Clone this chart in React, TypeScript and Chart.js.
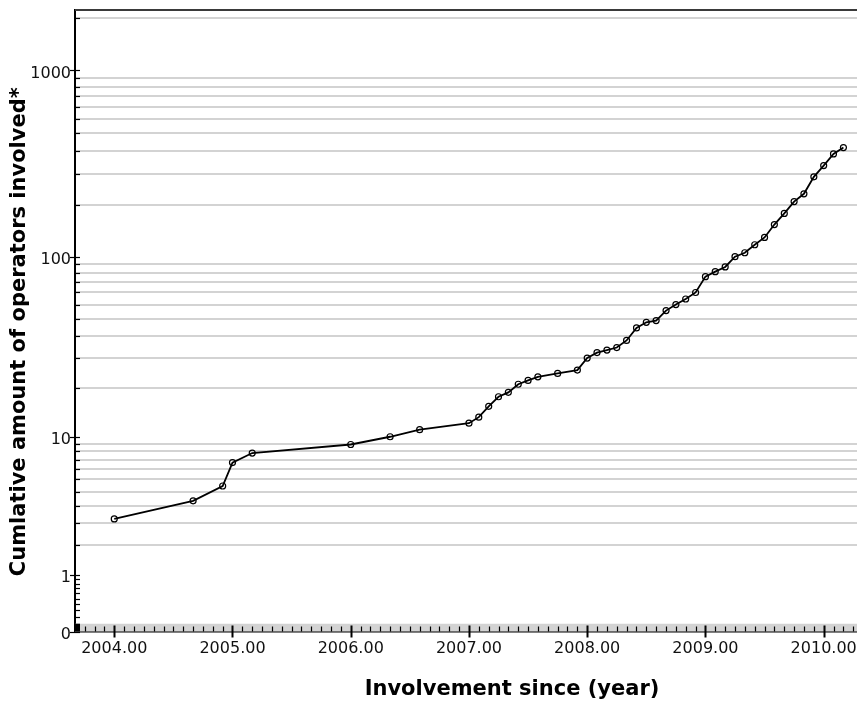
import React, { useEffect, useRef } from "react";
import { Chart, registerables } from "chart.js";

Chart.register(...registerables);

// ---- data ----
const years = [
  2004.0, 2004.667, 2004.917, 2005.0, 2005.167, 2006.0, 2006.333, 2006.583,
  2007.0, 2007.083, 2007.167, 2007.25, 2007.333, 2007.417, 2007.5, 2007.583, 2007.75, 2007.917,
  2008.0, 2008.083, 2008.167, 2008.25, 2008.333, 2008.417, 2008.5, 2008.583, 2008.667, 2008.75, 2008.833, 2008.917,
  2009.0, 2009.083, 2009.167, 2009.25, 2009.333, 2009.417, 2009.5, 2009.583, 2009.667, 2009.75, 2009.833, 2009.917,
  2010.0, 2010.083, 2010.167,
];
const operators = [
  3, 4, 5, 7, 8, 9, 10, 11,
  12, 13, 15, 17, 18, 20, 21, 22, 23, 24,
  28, 30, 31, 32, 35, 41, 44, 45, 51, 55, 59, 64,
  78, 83, 88, 100, 105, 116, 127, 149, 171, 198, 218, 269,
  309, 357, 386,
];
const xTickYears = [2004, 2005, 2006, 2007, 2008, 2009, 2010, 2011];
const yMajorTicks = [0, 1, 10, 100, 1000, 10000];
const xMin = 2003.668;
const xMax = 2011.06;
const yMaxRaw = 2105;
const bandTopRaw = 0.1;

const xTitle = "Involvement since (year)";
const yTitle = "Cumlative amount of operators involved*";

// log10(1 + v) transform used by the vertical axis
const tr = (v: number) => Math.log10(1 + v);

type YTick = { raw: number; t: number; kind: "major" | "minor" | "grid" };
function buildYTicks(): YTick[] {
  const out: YTick[] = [];
  const tMax = tr(yMaxRaw);
  for (let i = 0; i < yMajorTicks.length; i++) {
    const a = yMajorTicks[i];
    if (tr(a) <= tMax) out.push({ raw: a, t: tr(a), kind: "major" });
    const b = yMajorTicks[i + 1];
    if (b === undefined) break;
    const step = (b - a) / 10;
    for (let k = 1; k <= 9; k++) {
      const v = a + k * step;
      if (tr(v) > tMax) continue;
      out.push({ raw: v, t: tr(v), kind: v >= 1 ? "grid" : "minor" });
    }
  }
  return out;
}
const yTicks = buildYTicks();

const decor = {
  id: "decor",
  beforeDatasetsDraw(chart: any) {
    const { ctx, chartArea: a, scales } = chart;
    const y = scales.y;
    const yb = y.getPixelForValue(tr(bandTopRaw));
    ctx.save();
    ctx.fillStyle = "#d3d3d3";
    ctx.fillRect(a.left, yb, a.right - a.left, a.bottom - yb);
    ctx.restore();
  },
  afterDatasetsDraw(chart: any) {
    const { ctx, chartArea: a, scales } = chart;
    const x = scales.x;
    const y = scales.y;
    ctx.save();
    // top frame line
    ctx.strokeStyle = "#3a3a3a";
    ctx.lineWidth = 2;
    ctx.beginPath();
    ctx.moveTo(a.left, a.top);
    ctx.lineTo(a.right, a.top);
    ctx.stroke();

    ctx.strokeStyle = "#000";
    ctx.lineWidth = 1.2;
    // y ticks
    for (const tk of yTicks) {
      const py = Math.round(y.getPixelForValue(tk.t)) + 0.5;
      ctx.beginPath();
      if (tk.kind === "major") {
        ctx.moveTo(a.left - 5, py);
        ctx.lineTo(a.left + 5, py);
      } else {
        ctx.moveTo(a.left, py);
        ctx.lineTo(a.left + 5, py);
      }
      ctx.stroke();
    }
    // dense block near zero
    const yb = y.getPixelForValue(tr(bandTopRaw));
    ctx.fillStyle = "#000";
    ctx.fillRect(a.left - 1, yb, 6, a.bottom - yb);

    // x ticks: monthly minor, yearly major
    for (let yr = Math.floor(xMin); yr <= Math.ceil(xMax); yr++) {
      for (let m = 0; m < 12; m++) {
        const v = yr + m / 12;
        if (v < xMin || v > xMax) continue;
        const px = Math.round(x.getPixelForValue(v)) + 0.5;
        ctx.beginPath();
        if (m === 0) {
          ctx.lineWidth = 2;
          ctx.moveTo(px, a.bottom - 6);
          ctx.lineTo(px, a.bottom + 6);
        } else {
          ctx.lineWidth = 1.2;
          ctx.moveTo(px, a.bottom - 5);
          ctx.lineTo(px, a.bottom);
        }
        ctx.stroke();
      }
    }
    ctx.restore();
  },
};

export default function App() {
  const ref = useRef<HTMLCanvasElement | null>(null);

  useEffect(() => {
    if (!ref.current) return;
    Chart.defaults.font.family = "'DejaVu Sans', sans-serif";
    const chart = new Chart(ref.current, {
      type: "line",
      data: {
        datasets: [
          {
            data: years.map((yr, i) => ({ x: yr, y: tr(operators[i]) })),
            borderColor: "#000",
            borderWidth: 1.8,
            pointRadius: 3,
            pointBorderWidth: 1.2,
            pointBorderColor: "#000",
            pointBackgroundColor: "rgba(0,0,0,0)",
            fill: false,
            tension: 0,
          },
        ],
      },
      options: {
        animation: false,
        responsive: false,
        devicePixelRatio: 1,
        layout: { padding: { top: 10, right: 41, left: 0, bottom: 0 } },
        plugins: { legend: { display: false }, tooltip: { enabled: false } },
        scales: {
          x: {
            type: "linear",
            min: xMin,
            max: xMax,
            afterBuildTicks: (s: any) => {
              s.ticks = xTickYears.map((v) => ({ value: v }));
            },
            afterFit: (s: any) => {
              s.height = 70.5;
              s.paddingLeft = 0;
              s.paddingRight = 0;
            },
            grid: { display: false, drawTicks: false },
            border: { display: true, color: "#000", width: 1.5 },
            ticks: {
              autoSkip: false,
              maxRotation: 0,
              padding: 8,
              color: "#111",
              font: { size: 16 },
              callback: (v: any) => Number(v).toFixed(2),
            },
            title: {
              display: true,
              text: xTitle,
              color: "#000",
              font: { size: 21, weight: "bold" },
              padding: { top: 0, bottom: 0 },
            },
          },
          y: {
            type: "linear",
            min: 0,
            max: tr(yMaxRaw),
            afterBuildTicks: (s: any) => {
              s.ticks = yTicks.map((t) => ({ value: t.t }));
            },
            afterFit: (s: any) => {
              s.width = 75;
              s.paddingTop = 0;
              s.paddingBottom = 0;
            },
            grid: {
              drawTicks: false,
              lineWidth: 2,
              color: (c: any) =>
                yTicks[c.index] && yTicks[c.index].kind === "grid" ? "#d3d3d3" : "rgba(0,0,0,0)",
            },
            border: { display: true, color: "#000", width: 2 },
            ticks: {
              autoSkip: false,
              padding: 4,
              labelOffset: 3,
              color: "#111",
              font: { size: 16 },
              callback: (_v: any, i: number) =>
                yTicks[i] && yTicks[i].kind === "major" ? String(yTicks[i].raw) : "",
            },
            title: {
              display: true,
              text: yTitle + "   ",
              color: "#000",
              font: { size: 21, weight: "bold" },
              padding: { top: 7, bottom: 0 },
            },
          },
        },
      },
      plugins: [decor],
    });
    return () => chart.destroy();
  }, []);

  return (
    <div
      style={{
        position: "fixed",
        left: 0,
        top: 0,
        width: 857,
        height: 702,
        overflow: "hidden",
        background: "#fff",
      }}
    >
      <canvas ref={ref} width={990} height={702} style={{ width: 990, height: 702, display: "block" }} />
    </div>
  );
}
